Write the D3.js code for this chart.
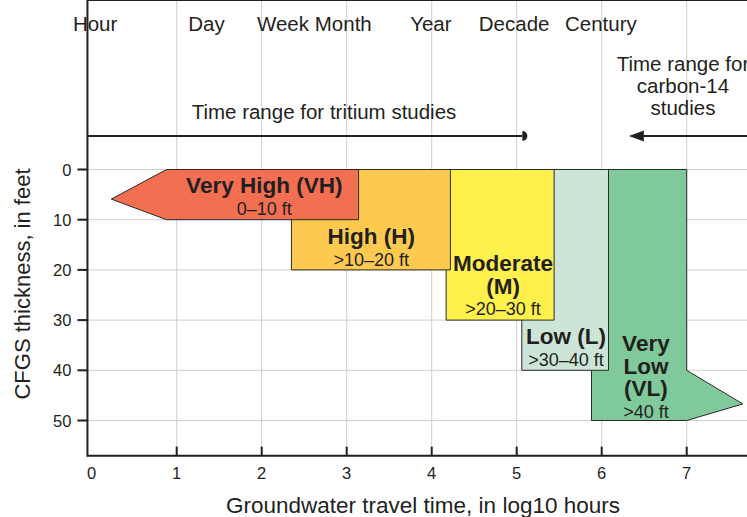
<!DOCTYPE html>
<html>
<head>
  <title>CFGS thickness and groundwater travel time</title>
  <script src="https://d3js.org/d3.v7.min.js"></script>
  <style>
    body { margin: 0; background: #fff; }
    text { font-family: "Liberation Sans", Arial, sans-serif; fill: #231f20; }
  </style>
</head>
<body>
<script type="text/javascript">

// ****** DATA ******

  // time scale labels across the top, placed at log10 hours
  var timeNames = ["Hour", "Day", "Week", "Month", "Year", "Decade", "Century"],
      timeLogHours = [0.04, 1.35, 2.25, 2.96, 3.99, 4.97, 5.99];

  // protection zones: travel time range (log10 hours) and CFGS thickness range (ft)
  var zoneNames = ["Very High (VH)", "High (H)", "Moderate (M)", "Low (L)", "Very Low (VL)"],
      zoneLines = [["Very High (VH)"], ["High (H)"], ["Moderate", "(M)"], ["Low (L)"], ["Very", "Low", "(VL)"]],
      zoneRanges = ["0\u201310 ft", ">10\u201320 ft", ">20\u201330 ft", ">30\u201340 ft", ">40 ft"],
      zoneTimeMin = [0.88, 2.35, 4.17, 5.06, 5.88],
      zoneTimeMax = [3.14, 4.22, 5.44, 6.08, 7.0],
      zoneThickMin = [0, 0, 0, 0, 0],
      zoneThickMax = [10, 20, 30, 40, 50],
      zoneColors = ["#f26f52", "#fec94f", "#fff04c", "#cce5d6", "#80c99b"];

  // arrow tips of the open ended zones [log10 hours, ft]
  var vhTip = [0.23, 5.9],
      vlTip = [7.66, 46.7],
      vlTipStart = 40;

  // dating method ranges (log10 hours)
  var tritiumMax = 5.09,
      carbonMin = 6.32;

  var xTicks = [0, 1, 2, 3, 4, 5, 6, 7],
      yTicks = [0, 10, 20, 30, 40, 50];

  var width = 747,
      height = 517;

// ****** SCALES ******

  var x = d3.scaleLinear().domain([0, 7]).range([91.7, 686.7]);
  var y = d3.scaleLinear().domain([0, 50]).range([169.5, 420.5]);

  var left = x(-0.05),
      right = width,
      top = 43.5,
      arrowY = 136,
      bottom = y(57);

  var svg = d3.select("body")
    .append("svg")
    .attr("width", width)
    .attr("height", height);

// ****** GRID ******

  svg.append("g").selectAll("line")
    .data(xTicks.filter(function (d) { return d > 0; }))
    .enter().append("line")
    .attr("x1", function (d) { return x(d); })
    .attr("x2", function (d) { return x(d); })
    .attr("y1", top)
    .attr("y2", bottom)
    .style("stroke", "#cfcfcf")
    .style("stroke-width", 1);

  svg.append("g").selectAll("line")
    .data(yTicks)
    .enter().append("line")
    .attr("x1", left)
    .attr("x2", right)
    .attr("y1", function (d) { return y(d); })
    .attr("y2", function (d) { return y(d); })
    .style("stroke", "#cfcfcf")
    .style("stroke-width", 1);

// ****** ZONES ******

  // drawn back to front so each lower zone sits under the next
  function zonePoints(i) {
    var x0 = zoneTimeMin[i], x1 = zoneTimeMax[i], y0 = zoneThickMin[i], y1 = zoneThickMax[i];
    if (i === 0) {
      return [[x0, y0], [x1, y0], [x1, y1], [x0, y1], vhTip];
    } else if (i === 4) {
      return [[x0, y0], [x1, y0], [x1, vlTipStart], vlTip, [x1, y1], [x0, y1]];
    }
    return [[x0, y0], [x1, y0], [x1, y1], [x0, y1]];
  }

  var order = [4, 3, 2, 1, 0];

  svg.append("g").selectAll("polygon")
    .data(order)
    .enter().append("polygon")
    .attr("points", function (i) {
      return zonePoints(i).map(function (p) { return x(p[0]) + "," + y(p[1]); }).join(" ");
    })
    .style("fill", function (i) { return zoneColors[i]; })
    .style("stroke", "#2b2b2b")
    .style("stroke-width", 1);

  // label centre and first baseline in px
  var labelX = [2.03, 3.29, 4.84, 5.58, 6.52],
      labelFirst = [193, 244, 271, 344, 351];

  order.forEach(function (i) {
    var g = svg.append("g");
    var lines = zoneLines[i];
    lines.forEach(function (t, k) {
      g.append("text")
        .attr("x", x(labelX[i]))
        .attr("y", labelFirst[i] + k * 22.5)
        .attr("text-anchor", "middle")
        .style("font-size", "22.5px")
        .style("font-weight", "bold")
        .text(t);
    });
    g.append("text")
      .attr("x", x(labelX[i]))
      .attr("y", labelFirst[i] + (lines.length - 1) * 22.5 + 21.5)
      .attr("text-anchor", "middle")
      .style("font-size", "18px")
      .text(zoneRanges[i]);
  });

// ****** FRAME AND AXES ******

  svg.append("line")
    .attr("x1", left).attr("x2", right)
    .attr("y1", top).attr("y2", top)
    .style("stroke", "#231f20").style("stroke-width", 2);

  svg.append("line")
    .attr("x1", left).attr("x2", left)
    .attr("y1", top - 1).attr("y2", bottom + 1)
    .style("stroke", "#231f20").style("stroke-width", 2);

  svg.append("line")
    .attr("x1", left).attr("x2", right)
    .attr("y1", bottom).attr("y2", bottom)
    .style("stroke", "#231f20").style("stroke-width", 2);

  // y axis ticks point out, x axis ticks point in
  svg.append("g").selectAll("line")
    .data(yTicks)
    .enter().append("line")
    .attr("x1", left - 10).attr("x2", left)
    .attr("y1", function (d) { return y(d); })
    .attr("y2", function (d) { return y(d); })
    .style("stroke", "#231f20").style("stroke-width", 2);

  svg.append("g").selectAll("text")
    .data(yTicks)
    .enter().append("text")
    .attr("x", left - 16)
    .attr("y", function (d) { return y(d) + 6; })
    .attr("text-anchor", "end")
    .style("font-size", "16.5px")
    .text(function (d) { return d; });

  svg.append("g").selectAll("line")
    .data(xTicks.filter(function (d) { return d > 0; }))
    .enter().append("line")
    .attr("x1", function (d) { return x(d); })
    .attr("x2", function (d) { return x(d); })
    .attr("y1", bottom - 9).attr("y2", bottom)
    .style("stroke", "#231f20").style("stroke-width", 2);

  svg.append("g").selectAll("text")
    .data(xTicks)
    .enter().append("text")
    .attr("x", function (d) { return x(d); })
    .attr("y", bottom + 23)
    .attr("text-anchor", "middle")
    .style("font-size", "16.5px")
    .text(function (d) { return d; });

  svg.append("text")
    .attr("x", 423)
    .attr("y", 513)
    .attr("text-anchor", "middle")
    .style("font-size", "22.5px")
    .text("Groundwater travel time, in log10 hours");

  svg.append("text")
    .attr("transform", "translate(30," + 284 + ") rotate(-90)")
    .attr("text-anchor", "middle")
    .style("font-size", "22px")
    .text("CFGS thickness, in feet");

// ****** TIME LABELS AND ARROWS ******

  svg.append("g").selectAll("text")
    .data(timeNames)
    .enter().append("text")
    .attr("x", function (d, i) { return x(timeLogHours[i]); })
    .attr("y", 31)
    .attr("text-anchor", "middle")
    .style("font-size", "20.5px")
    .text(function (d) { return d; });

  svg.append("line")
    .attr("x1", left).attr("x2", x(tritiumMax) - 2)
    .attr("y1", arrowY).attr("y2", arrowY)
    .style("stroke", "#231f20").style("stroke-width", 2);

  svg.append("path")
    .attr("d", "M" + (x(tritiumMax) - 2) + "," + (arrowY - 5) + " a5,5 0 0,1 0,10 z")
    .style("fill", "#231f20");

  svg.append("line")
    .attr("x1", x(carbonMin) + 10).attr("x2", right)
    .attr("y1", arrowY).attr("y2", arrowY)
    .style("stroke", "#231f20").style("stroke-width", 2);

  svg.append("path")
    .attr("d", "M" + x(carbonMin) + "," + arrowY + " l15,-5.5 l0,11 z")
    .style("fill", "#231f20");

  svg.append("text")
    .attr("x", 324)
    .attr("y", 119)
    .attr("text-anchor", "middle")
    .style("font-size", "20.5px")
    .text("Time range for tritium studies");

  svg.append("g").selectAll("text")
    .data(["Time range for", "carbon-14", "studies"])
    .enter().append("text")
    .attr("x", 683)
    .attr("y", function (d, i) { return 71 + i * 22; })
    .attr("text-anchor", "middle")
    .style("font-size", "20.5px")
    .text(function (d) { return d; });

</script>
</body>
</html>
